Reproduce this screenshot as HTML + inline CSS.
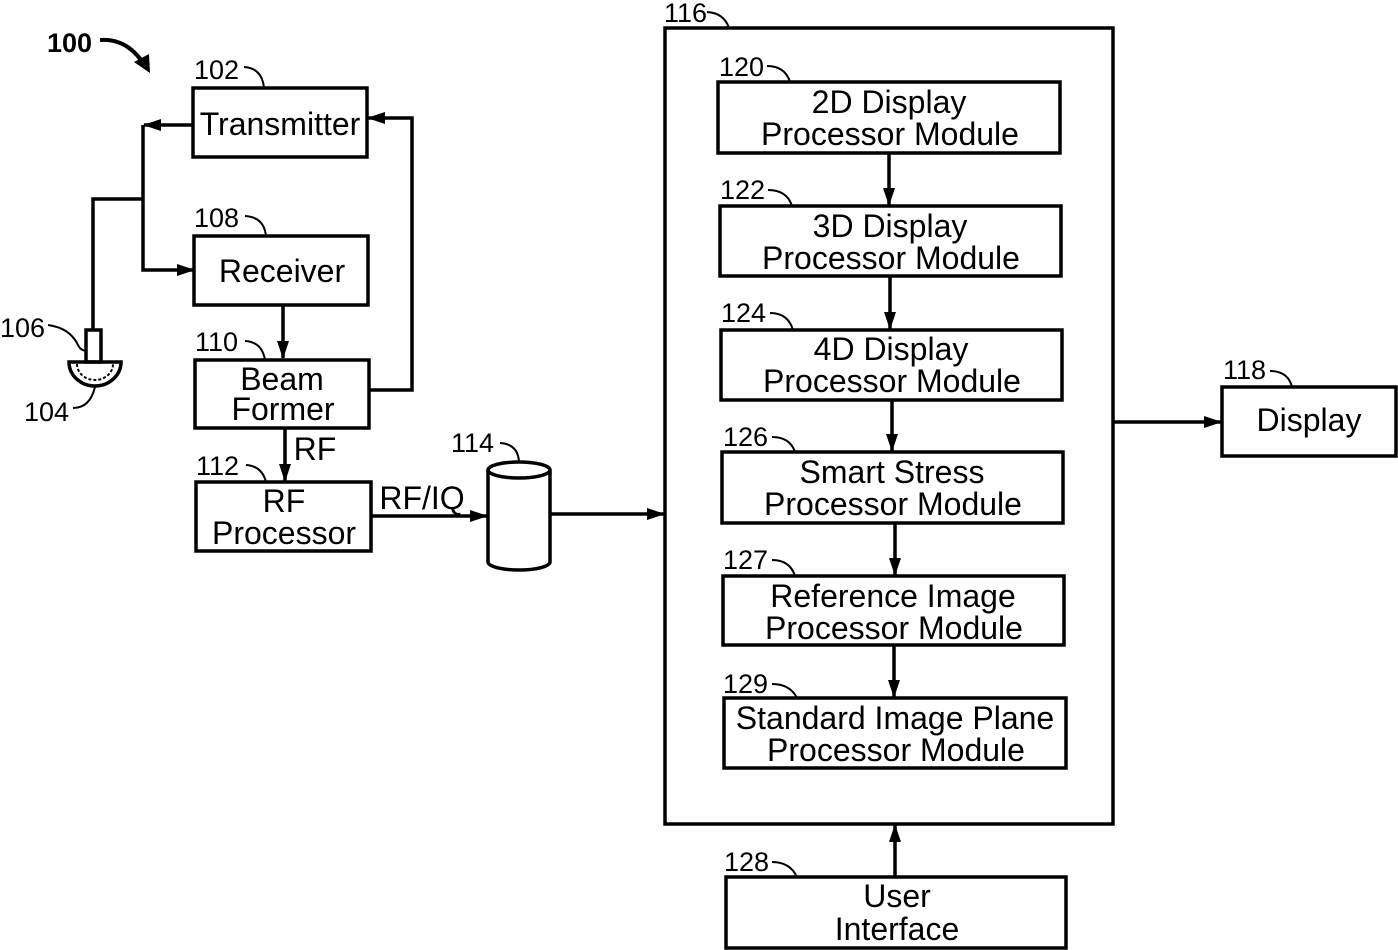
<!DOCTYPE html>
<html><head><style>body{margin:0;background:#fff}svg{display:block}text{font-family:"Liberation Sans",sans-serif;fill:#000}</style></head><body>
<svg width="1398" height="950" viewBox="0 0 1398 950">
<defs><marker id="a" markerWidth="18" markerHeight="12" refX="17" refY="6" orient="auto" markerUnits="userSpaceOnUse"><path d="M0,0 L18,6 L0,12 Z" fill="#000"/></marker></defs>
<g fill="none" stroke="#000" stroke-width="3.5">
<rect x="193" y="88" width="174" height="69"/>
<rect x="194" y="236" width="174" height="69"/>
<rect x="195" y="360" width="174" height="68"/>
<rect x="196" y="482" width="175" height="69"/>
<rect x="665" y="28" width="448" height="796"/>
<rect x="718" y="82" width="342" height="71"/>
<rect x="720" y="206" width="341" height="70"/>
<rect x="721" y="330" width="341" height="70"/>
<rect x="722" y="452" width="341" height="71"/>
<rect x="723" y="576" width="341" height="69"/>
<rect x="724" y="698" width="342" height="70"/>
<rect x="726" y="877" width="340" height="71"/>
<rect x="1222" y="387" width="174" height="69"/>
<path d="M488,470 L488,562 A31,8 0 0 0 550,562 L550,470"/>
<ellipse cx="519" cy="470" rx="31" ry="8"/>
<path d="M193,125 L144,125" marker-end="url(#a)"/>
<path d="M143,125 L143,270 L194,270" marker-end="url(#a)"/>
<path d="M143,199 L93,199 L93,330"/>
<path d="M369,390 L412,390 L412,118 L368,118" marker-end="url(#a)"/>
<path d="M283,305 L283,358" marker-end="url(#a)"/>
<path d="M285,428 L285,481" marker-end="url(#a)"/>
<path d="M371,516 L487,516" marker-end="url(#a)"/>
<path d="M550,514 L664,514" marker-end="url(#a)"/>
<path d="M889,153 L889,205" marker-end="url(#a)"/>
<path d="M890,276 L890,329" marker-end="url(#a)"/>
<path d="M892,400 L892,451" marker-end="url(#a)"/>
<path d="M895,523 L895,575" marker-end="url(#a)"/>
<path d="M894,645 L894,697" marker-end="url(#a)"/>
<path d="M1113,422 L1221,422" marker-end="url(#a)"/>
<path d="M895,877 L895,825" marker-end="url(#a)"/>
<rect x="86" y="330" width="15" height="32"/>
<path d="M69,362 L121,362 A26,24 0 0 1 69,362 Z"/>
<path d="M77,364 A18,16 0 0 0 113,364" stroke-width="2" stroke-dasharray="3,2"/>
<g stroke-width="2">
<path d="M244,67 Q262,68 264,88"/><path d="M245,216 Q264,217 266,236"/>
<path d="M245,341 Q262,342 265,360"/><path d="M246,465 Q262,466 266,482"/>
<path d="M500,443 Q518,444 519,462"/><path d="M707,12 Q724,13 729,28"/>
<path d="M767,66 Q785,66 790,82"/><path d="M768,190 Q787,190 792,206"/>
<path d="M770,313 Q788,313 793,330"/><path d="M772,437 Q790,437 795,452"/>
<path d="M772,560 Q790,560 795,576"/><path d="M772,684 Q790,684 797,698"/>
<path d="M772,862 Q790,862 797,877"/><path d="M1270,371 Q1288,371 1292,387"/>
<path d="M48,325 Q70,328 78,345 Q80,350 86,351"/><path d="M73,408 Q90,408 95,387"/>
</g>
<path d="M100,40 Q128,38 145,66" stroke-width="4"/>
</g>
<path d="M134,62 L150,73 L149,54 Z" fill="#000"/>
<g font-size="32" text-anchor="middle">
<text x="280" y="135">Transmitter</text>
<text x="282" y="282">Receiver</text>
<text x="282" y="390">Beam</text><text x="283" y="420">Former</text>
<text x="284" y="512">RF</text><text x="284" y="544">Processor</text>
<text x="889" y="113">2D Display</text><text x="890" y="145">Processor Module</text>
<text x="890" y="237">3D Display</text><text x="891" y="269">Processor Module</text>
<text x="891" y="360">4D Display</text><text x="892" y="392">Processor Module</text>
<text x="892" y="483">Smart Stress</text><text x="893" y="515">Processor Module</text>
<text x="893" y="607">Reference Image</text><text x="894" y="639">Processor Module</text>
<text x="895" y="729">Standard Image Plane</text><text x="896" y="761">Processor Module</text>
<text x="897" y="907">User</text><text x="897" y="940">Interface</text>
<text x="1309" y="431">Display</text>
<text x="315" y="460">RF</text><text x="422" y="509">RF/IQ</text>
</g>
<g font-size="27">
<text x="194" y="79">102</text><text x="194" y="227">108</text>
<text x="195" y="351">110</text><text x="196" y="475">112</text>
<text x="451" y="452">114</text><text x="664" y="22">116</text>
<text x="719" y="76">120</text><text x="720" y="199">122</text>
<text x="721" y="322">124</text><text x="723" y="446">126</text>
<text x="723" y="569">127</text><text x="723" y="693">129</text>
<text x="724" y="871">128</text><text x="1223" y="379">118</text>
<text x="0" y="337">106</text><text x="24" y="421">104</text>
<text x="47" y="52" font-weight="bold">100</text>
</g>
</svg>
</body></html>
